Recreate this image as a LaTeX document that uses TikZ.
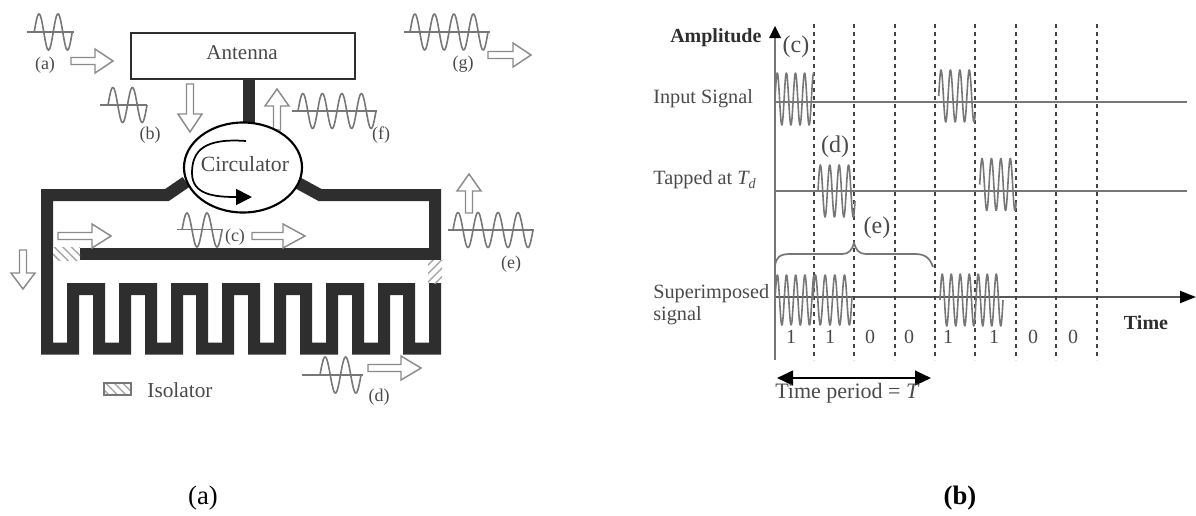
\documentclass[tikz,border=0pt]{standalone}
\usepackage{fontspec}
\setmainfont{Liberation Serif}
\usetikzlibrary{arrows.meta,patterns.meta,shapes.geometric}
\definecolor{ink}{HTML}{2E2E2E}
\definecolor{soft}{HTML}{777777}
\definecolor{txt}{HTML}{4A4A4A}
\newcommand{\fsz}[1]{\fontsize{#1}{#1}\selectfont}
% x0, yc, amp, period, length
\newcommand{\swave}[5]{\draw[wavelin] plot[domain=0:#5,samples=160] ({#1+\x},{#2-#3*sin(360/#4*\x)});}
% tail x, tail y, rotation, length, head base
\newcommand{\blockarrow}[5]{\begin{scope}[shift={(#1,#2)},rotate=#3]
\draw[hollow] (0,-3.5)--(#5,-3.5)--(#5,-12)--(#4,0)--(#5,12)--(#5,3.5)--(0,3.5)--cycle;
\end{scope}}
\tikzset{
  x=0.75pt,y=-0.75pt,
  wavelin/.style={draw=soft,line width=1.2pt,line join=round},
  hollow/.style={draw=soft!85,line width=1.1pt,fill=white,line join=miter},
  trace/.style={draw=ink,line width=9pt,line join=miter,line cap=butt},
  axisline/.style={draw=soft,line width=1.6pt},
  hatchl/.style={pattern={Lines[angle=-45,distance=4.5pt,line width=1.1pt]},pattern color=soft!65},
  hatchr/.style={pattern={Lines[angle=45,distance=4.5pt,line width=1.1pt]},pattern color=soft!65},
  lab/.style={inner sep=0pt,text=txt,font=\fsz{13.5}},
  sidelab/.style={inner sep=0pt,text=txt,anchor=west,font=\fsz{15.2}},
  biglab/.style={inner sep=0pt,text=txt,font=\fsz{18}},
  bitlab/.style={inner sep=0pt,text=txt,font=\fsz{15}},
  boldlab/.style={inner sep=0pt,text=ink,font=\fsz{15}\bfseries},
  dashline/.style={draw=ink!90,line width=1.9pt,dash pattern=on 3pt off 3pt},
  capt/.style={inner sep=0pt,text=black,font=\fsz{20}},
}
\begin{document}
\begin{tikzpicture}
\useasboundingbox (0,0) rectangle (1196,515);
% ---------- panel (a)
\node[draw=ink,line width=2pt,minimum width=168pt,minimum height=34.5pt,inner sep=0pt,fill=white] (antenna) at (243,56) {};
\node[inner sep=0pt,text=txt,font=\fsz{15.8}] (antennatext) at (242,53) {Antenna};
\coordinate (stemtop) at (249,79);
\coordinate (stembot) at (249,130);
\coordinate (cl) at (186,182);
\coordinate (cr) at (298,183);
\draw[trace] (stemtop) -- (stembot);
\blockarrow{277}{130}{90}{41}{24}
\draw[trace] (cl) -- (167,195) -- (47,195) -- (47,348.5) -- (73,348.5) -- (73,289) -- (99,289) -- (99,348.5) -- (125,348.5) -- (125,289) -- (151,289) -- (151,348.5) -- (177,348.5) -- (177,289) -- (202,289) -- (202,348.5) -- (228,348.5) -- (228,289) -- (254,289) -- (254,348.5) -- (280,348.5) -- (280,289) -- (306,289) -- (306,348.5) -- (332,348.5) -- (332,289) -- (358,289) -- (358,348.5) -- (384,348.5) -- (384,289) -- (409,289) -- (409,348.5) -- (435,348.5) -- (435,283);
\draw[trace] (cr) -- (320,195) -- (435,195) -- (435,260);
\draw[trace] (80,253.5) -- (441,253.5);
\fill[white] (53,247) rectangle (80,260);
\path[hatchl] (53,247.5) rectangle (80,260);
\fill[white] (428,260) rectangle (442,283);
\path[hatchr] (428,260) rectangle (442,283);
\node[ellipse,draw=black,line width=1.6pt,fill=white,minimum width=88.5pt,minimum height=67.5pt,inner sep=0pt] (circ) at (243,167.5) {};
\node[inner sep=0pt,text=txt,font=\fsz{16.3}] (circtext) at (245,164) {Circulator};
\coordinate (ca) at (246,141);
\coordinate (cb) at (252,197);
\draw[black,line width=1.3pt,-{Triangle[length=12pt,width=12pt]}] (ca) .. controls (205,138) and (192,150) .. (192,173) .. controls (192,195) and (215,197) .. (cb);
% hollow arrows
\blockarrow{71}{61}{0}{42}{24}
\blockarrow{190}{84}{-90}{48}{30}
\blockarrow{488}{55}{0}{43}{25}
\blockarrow{469}{213}{90}{39}{22}
\blockarrow{23}{250}{-90}{39}{23}
\blockarrow{58}{236}{0}{53}{34}
\blockarrow{252}{236}{0}{53}{31}
\blockarrow{368}{368}{0}{53}{33}
% waves
\draw[wavelin] (27,32) -- (74,32);   \swave{34.25}{32}{18}{19}{38}
\draw[wavelin] (100,105) -- (147,105); \swave{108}{105}{17.5}{19.5}{39}
\draw[wavelin] (177,229.5) -- (223,229.5); \swave{182}{230}{17}{20}{40}
\draw[wavelin] (302,375) -- (363,375); \swave{320}{375}{18}{20.5}{41}
\draw[wavelin] (448,230) -- (534,230); \swave{453}{230}{17.5}{20}{80}
\draw[wavelin] (292,111) -- (377,111); \swave{298}{111}{17.5}{19.5}{78}
\draw[wavelin] (404,32) -- (490,32); \swave{410}{32}{18}{19.5}{78}
% labels
\node[lab] (la) at (45,65) {(a)};
\node[lab] (lb) at (150,135) {(b)};
\node[lab] (lc) at (235,237) {(c)};
\node[lab] (ld) at (379,397) {(d)};
\node[lab] (le) at (511,264) {(e)};
\node[lab] (lf) at (381,135) {(f)};
\node[lab] (lg) at (463,64) {(g)};
\path[hatchl,draw=soft,line width=1pt] (104,383) rectangle (131,395);
\node[inner sep=0pt,text=txt,font=\fsz{16}] (isol) at (180,390) {Isolator};
\node[capt] (capa) at (203,498) {(a)};
% ---------- panel (b)
\coordinate (o1) at (775,102); \coordinate (e1) at (1187,102);
\coordinate (o2) at (775,191); \coordinate (e2) at (1187,191);
\coordinate (o3) at (775,297); \coordinate (e3) at (1196,297);
\coordinate (yb) at (775,360); \coordinate (yt) at (775,26);
\draw[axisline] (o1) -- (e1);
\draw[axisline] (o2) -- (e2);
\draw[draw=ink!80,line width=1.6pt,-{Triangle[length=12pt,width=9pt,color=black]}] (o3) -- (e3);
\draw[draw=soft,line width=1.6pt] (yb) -- (775,36);
\fill[black] (yt) -- (769,38) -- (781,38) -- cycle;
\foreach \dx in {814,854,895,935,975,1016,1056,1097}
  \draw[dashline] (\dx,24) -- (\dx,360);
\swave{775}{99}{26}{9.1}{39}
\swave{938.7}{96}{26}{9.4}{36.5}
\swave{818}{191}{26}{9.4}{37}
\swave{979.7}{184.5}{26}{9.4}{36.5}
\swave{775}{300}{25}{9.2}{39}
\swave{813}{300}{25}{9.7}{39}
\swave{940}{300}{26}{9}{63}
\coordinate (bl) at (775,266); \coordinate (br) at (933,267); \coordinate (bt) at (854,243);
\draw[draw=soft,line width=1.3pt] (bl) .. controls (776,258) and (779,254) .. (790,254) -- (842,254) .. controls (849,254) and (852,250) .. (bt) .. controls (856,250) and (859,254) .. (866,254) -- (915,254) .. controls (925,254) and (930,258) .. (br);
\coordinate (tl) at (777,378); \coordinate (tr) at (931,378);
\draw[black,line width=1.6pt,{Triangle[length=12pt,width=11pt]}-{Triangle[length=12pt,width=11pt]}] (tl) -- (tr);
\node[boldlab,anchor=west] (amp) at (670,38) {Amplitude};
\node[biglab] (c2) at (796,47) {(c)};
\node[biglab] (d2) at (835,147) {(d)};
\node[biglab] (e2l) at (877,228) {(e)};
\node[sidelab] (inp) at (653,99) {Input Signal};
\node[sidelab] (tap) at (653,180) {Tapped at \textit{T\textsubscript{d}}};
\node[sidelab,align=left,font=\fontsize{15.2}{17}\selectfont] (sup) at (653,304.5) {Superimposed\\signal};
\node[bitlab] (b1) at (791,337) {1};
\node[bitlab] (b2) at (830,337) {1};
\node[bitlab] (b3) at (870,337) {0};
\node[bitlab] (b4) at (909,337) {0};
\node[bitlab] (b5) at (948,337) {1};
\node[bitlab] (b6) at (994,337) {1};
\node[bitlab] (b7) at (1033,337) {0};
\node[bitlab] (b8) at (1073,337) {0};
\node[boldlab] (timel) at (1146,323) {Time};
\node[inner sep=0pt,text=txt,anchor=west,font=\fsz{16.5}] (tp) at (775,393) {Time period = \textit{T}};
\node[capt,font=\fsz{20}\bfseries] (capb) at (960,498) {(b)};
\end{tikzpicture}
\end{document}
